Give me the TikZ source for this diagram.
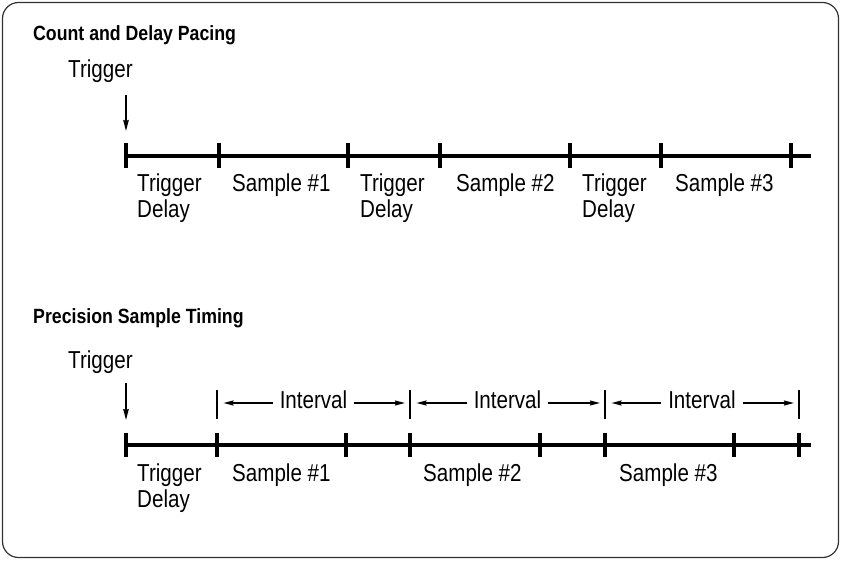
\documentclass[tikz,border=0pt]{standalone}
\usepackage{fontspec}
\setmainfont{Liberation Sans}[FakeStretch=0.84]
\newfontfamily\headfont{Liberation Sans}[FakeStretch=0.86]
\usetikzlibrary{arrows.meta}
\begin{document}
\begin{tikzpicture}[x=1pt,y=-1pt,
  lbl/.style={anchor=base west, inner sep=0pt, font=\fontsize{24.5}{26}\selectfont},
  headtxt/.style={anchor=base west, inner sep=0pt, font=\headfont\bfseries\fontsize{20.6}{22}\selectfont},
  ivtxt/.style={anchor=base, inner xsep=7pt, inner ysep=0pt, font=\fontsize{24.5}{26}\selectfont},
  axis/.style={line width=4pt},
  tickmark/.style={line width=4.5pt},
  trig/.style={line width=1.4pt, -{Stealth[length=11pt,width=5.5pt,inset=1pt]}},
  barline/.style={line width=1.4pt},
  dim/.style={line width=1.4pt, -{Stealth[length=10pt,width=5pt,inset=1pt]}},
  frame/.style={draw=black!80, line width=1.2pt, rounded corners=16pt}
]
\useasboundingbox (0,0) rectangle (841,560);
\draw[frame] (2.5,2.5) rectangle (838.5,557.5);

% ---------- Count and Delay Pacing ----------
\node[headtxt] (h1) at (33,40.7) {Count and Delay Pacing};
\node[lbl] (tg1) at (68,77.5) {Trigger};
\coordinate (ar1s) at (126,95);
\coordinate (ar1e) at (126,131);
\draw[trig] (ar1s) -- (ar1e);

\coordinate (a1s) at (126,155.5);
\coordinate (a1e) at (811,155.5);
\draw[axis] (a1s) -- (a1e);
\foreach \x [count=\i] in {126,219,348,440,570,661,791}{
  \coordinate (t1\i) at (\x,155.5);
  \draw[tickmark] ([yshift=12.5pt]t1\i) -- ([yshift=-12.5pt]t1\i);
}
\node[lbl] (d1a) at (137,191) {Trigger};
\node[lbl] (d1b) at (137,217) {Delay};
\node[lbl] (s1) at (232,191) {Sample \#1};
\node[lbl] (d2a) at (360,191) {Trigger};
\node[lbl] (d2b) at (360,217) {Delay};
\node[lbl] (s2) at (456,191) {Sample \#2};
\node[lbl] (d3a) at (582,191) {Trigger};
\node[lbl] (d3b) at (582,217) {Delay};
\node[lbl] (s3) at (675,191) {Sample \#3};

% ---------- Precision Sample Timing ----------
\node[headtxt] (h2) at (33,323.3) {Precision Sample Timing};
\node[lbl] (tg2) at (68,368) {Trigger};
\coordinate (ar2s) at (126,383);
\coordinate (ar2e) at (126,420);
\draw[trig] (ar2s) -- (ar2e);

\foreach \x [count=\i] in {217,410,605,799}{
  \coordinate (b\i) at (\x,403);
  \draw[barline] ([yshift=13pt]b\i) -- ([yshift=-16pt]b\i);
}
\node[ivtxt] (iv1) at (313.5,408.3) {Interval};
\node[ivtxt] (iv2) at (507.5,408.3) {Interval};
\node[ivtxt] (iv3) at (702,408.3) {Interval};
\draw[dim] (iv1.west |- b1) -- ([xshift=6.5pt]b1);
\draw[dim] (iv1.east |- b1) -- ([xshift=-5pt]b2);
\draw[dim] (iv2.west |- b2) -- ([xshift=6.5pt]b2);
\draw[dim] (iv2.east |- b2) -- ([xshift=-5pt]b3);
\draw[dim] (iv3.west |- b3) -- ([xshift=6.5pt]b3);
\draw[dim] (iv3.east |- b3) -- ([xshift=-5pt]b4);

\coordinate (a2s) at (126,444.5);
\coordinate (a2e) at (811,444.5);
\draw[axis] (a2s) -- (a2e);
\foreach \x [count=\i] in {126,217,346,410,540,605,734,799}{
  \coordinate (t2\i) at (\x,444.5);
  \draw[tickmark] ([yshift=12pt]t2\i) -- ([yshift=-12pt]t2\i);
}
\node[lbl] (e1a) at (137,481.5) {Trigger};
\node[lbl] (e1b) at (137,507) {Delay};
\node[lbl] (u1) at (232,481.5) {Sample \#1};
\node[lbl] (u2) at (423,481.5) {Sample \#2};
\node[lbl] (u3) at (619,481.5) {Sample \#3};
\end{tikzpicture}
\end{document}
